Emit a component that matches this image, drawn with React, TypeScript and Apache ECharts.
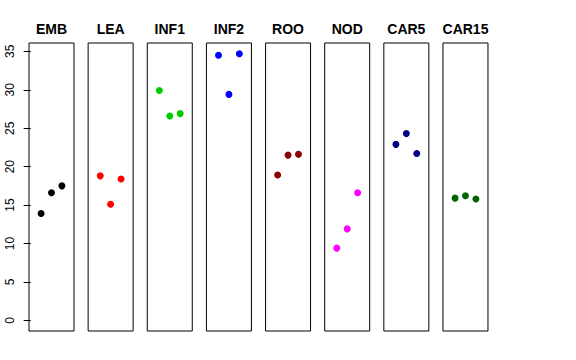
import React, { useEffect, useRef } from "react";
import * as echarts from "echarts";

const panels = ["EMB", "LEA", "INF1", "INF2", "ROO", "NOD", "CAR5", "CAR15"];
const colors = ["#000000", "#FF0000", "#00CD00", "#0000FF", "#8B0000", "#FF00FF", "#000080", "#006400"];
const positions = [1, 2, 3];
const EMB = [13.9, 16.6, 17.5];
const LEA = [18.8, 15.1, 18.4];
const INF1 = [29.9, 26.6, 26.9];
const INF2 = [34.5, 29.4, 34.7];
const ROO = [18.9, 21.5, 21.6];
const NOD = [9.4, 11.9, 16.6];
const CAR5 = [22.9, 24.3, 21.7];
const CAR15 = [15.9, 16.2, 15.8];
const values = [EMB, LEA, INF1, INF2, ROO, NOD, CAR5, CAR15];
const yTicks = [0, 5, 10, 15, 20, 25, 30, 35];

export default function App() {
  const ref = useRef<HTMLDivElement>(null);
  useEffect(() => {
    if (!ref.current) return;
    const chart = echarts.init(ref.current, null, { renderer: "svg" });
    const yMax = Math.max(...values.flat());
    const yMin = 0;
    const ext = (yMax - yMin) * 0.04;
    const left0 = 29;
    const step = 59.14;
    const w = 45;
    const top = 43;
    const h = 288;
    const grids = panels.map((_, i) => ({
      left: left0 + i * step,
      top,
      width: w,
      height: h,
      show: true,
      borderColor: "#000",
      borderWidth: 1,
      backgroundColor: "transparent",
      containLabel: false,
    }));
    const xAxes = panels.map((_, i) => ({
      type: "value",
      gridIndex: i,
      min: -0.16,
      max: 4.16,
      show: false,
    }));
    const yAxes = panels.map((_, i) => ({
      type: "value",
      gridIndex: i,
      min: yMin - ext,
      max: yMax + ext,
      show: i === 0,
      splitLine: { show: false },
      axisLine: { show: false },
      axisTick: {
        show: true,
        length: 7,
        customValues: yTicks,
        lineStyle: { color: "#000", width: 1 },
      },
      axisLabel: {
        show: true,
        customValues: yTicks,
        rotate: 90,
        margin: 13,
        fontSize: 12,
        color: "#000",
        fontFamily: "Liberation Sans, Arial, sans-serif",
      },
    }));
    const titles = panels.map((p, i) => ({
      text: p,
      left: left0 + i * step + w / 2,
      top: 22,
      textAlign: "center",
      padding: 0,
      textStyle: {
        fontSize: 14,
        fontWeight: "bold",
        color: "#000",
        fontFamily: "Liberation Sans, Arial, sans-serif",
      },
    }));
    const series = panels.map((p, i) => ({
      type: "scatter",
      name: p,
      xAxisIndex: i,
      yAxisIndex: i,
      symbol: "circle",
      symbolSize: 7,
      itemStyle: { color: colors[i], opacity: 1 },
      data: positions.map((x, j) => [x, values[i][j]]),
    }));
    chart.setOption({
      animation: false,
      backgroundColor: "#fff",
      title: titles,
      grid: grids,
      xAxis: xAxes,
      yAxis: yAxes,
      series,
    });
    return () => chart.dispose();
  }, []);
  return (
    <div
      ref={ref}
      style={{ width: 576, height: 360, position: "absolute", left: 0, top: 0 }}
    />
  );
}
